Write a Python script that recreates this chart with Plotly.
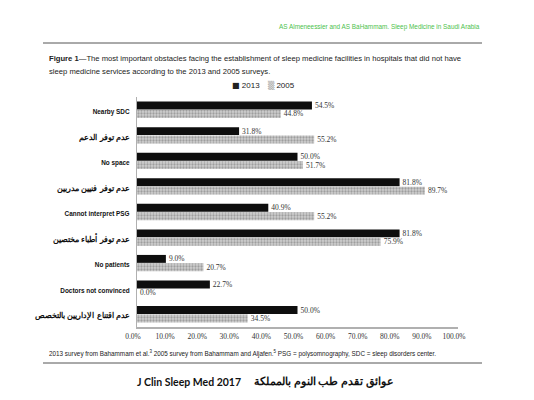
import plotly.graph_objects as go

categories = [
    "Nearby SDC",
    "عدم توفر الدعم",
    "No space",
    "عدم توفر فنيين مدربين",
    "Cannot interpret PSG",
    "عدم توفر أطباء مختصين",
    "No patients",
    "Doctors not convinced",
    "عدم اقتناع الإداريين بالتخصص",
]
is_arabic = [False, True, False, True, False, True, False, False, True]
series_names = ["2013", "2005"]
values_2013 = [54.5, 31.8, 50.0, 81.8, 40.9, 81.8, 9.0, 22.7, 50.0]
values_2005 = [44.8, 55.2, 51.7, 89.7, 55.2, 75.9, 20.7, 0.0, 34.5]
x_ticks = [0, 10, 20, 30, 40, 50, 60, 70, 80, 90, 100]
x_tick_labels = ["0.0%", "10.0%", "20.0%", "30.0%", "40.0%", "50.0%",
                 "60.0%", "70.0%", "80.0%", "90.0%", "100.0%"]

W, H = 534, 400
L, R, T, B = 137, 458, 97, 327


def px(x):
    return (x - L) / (R - L)


def py(y):
    return (B - y) / (B - T)


tick_text = []
for c, ar in zip(categories, is_arabic):
    if ar:
        tick_text.append('<span style="font-size:8px;font-family:Noto Sans"><b>' + c + '</b></span>')
    else:
        tick_text.append('<span style="font-size:6.4px"><b>' + c + '</b></span>')

sans = "Liberation Sans, Arial, sans-serif"
serif = "Liberation Serif, Times New Roman, serif"

fig = go.Figure()
fig.add_trace(go.Bar(
    y=categories, x=values_2013, orientation="h", name=series_names[0],
    marker=dict(color="#0e0e0e", line=dict(width=0)),
    texttemplate="%{x:.1f}%", textposition="outside", constraintext="none",
    cliponaxis=False,
    textfont=dict(size=7.5, color="#333333", family=serif),
))
fig.add_trace(go.Bar(
    y=categories, x=values_2005, orientation="h", name=series_names[1],
    marker=dict(color="#b4b4b4", line=dict(width=0),
                pattern=dict(shape=".", fgcolor="#6e6e6e", bgcolor="#cfcfcf",
                             size=3, solidity=0.45)),
    texttemplate="%{x:.1f}%", textposition="outside", constraintext="none",
    cliponaxis=False,
    textfont=dict(size=7.5, color="#333333", family=serif),
))

fig.update_layout(
    width=W, height=H,
    margin=dict(l=L, r=W - R, t=T, b=H - B, pad=0, autoexpand=False),
    paper_bgcolor="white", plot_bgcolor="white",
    barmode="group", bargap=0.34, bargroupgap=0.06,
    showlegend=False,
    font=dict(family=sans, color="#222"),
)
fig.update_yaxes(
    autorange="reversed", tickmode="array", tickvals=categories, ticktext=tick_text,
    tickfont=dict(family=sans, color="#111"), automargin=False,
    showline=True, linecolor="#b0b0b0", linewidth=1, ticks="", showgrid=False,
    ticklabelstandoff=4,
)
fig.update_xaxes(
    range=[0, 100], tickmode="array", tickvals=x_ticks, ticktext=x_tick_labels,
    tickfont=dict(size=7.5, color="#333", family=serif), automargin=False,
    tickangle=0, ticklabelshift=-4, ticklabelstandoff=1,
    showline=True, linecolor="#b0b0b0", linewidth=1.5, ticks="", showgrid=False,
    zeroline=False,
)

ann = []
# legend
ann.append(dict(text='<span style="font-family:DejaVu Sans;font-size:8px">■</span> ' + series_names[0],
                x=px(230), y=py(85), xanchor="left", yanchor="middle",
                font=dict(size=8, color="#222", family=sans)))
ann.append(dict(text='<span style="font-family:DejaVu Sans;font-size:8px;color:#9a9a9a">▒</span> ' + series_names[1],
                x=px(266), y=py(85), xanchor="left", yanchor="middle",
                font=dict(size=8, color="#222", family=sans)))
ann.append(dict(text="AS Almeneessier and AS BaHammam. Sleep Medicine in Saudi Arabia",
                x=px(482), y=py(27), xanchor="right", yanchor="middle",
                font=dict(size=6.4, color="#4cc24c", family=sans)))
ann.append(dict(text="<b>Figure 1</b>—The most important obstacles facing the establishment of sleep medicine facilities in hospitals that did not have",
                x=px(47), y=py(58), xanchor="left", yanchor="middle", align="left",
                font=dict(size=7.65, color="#222", family=sans)))
ann.append(dict(text="sleep medicine services according to the 2013 and 2005 surveys.",
                x=px(47), y=py(71), xanchor="left", yanchor="middle", align="left",
                font=dict(size=7.65, color="#222", family=sans)))
ann.append(dict(text="2013 survey from Bahammam et al.<sup>3</sup> 2005 survey from Bahammam and Aljafen.<sup>5</sup> PSG = polysomnography, SDC = sleep disorders center.",
                x=px(47), y=py(353), xanchor="left", yanchor="middle", align="left",
                font=dict(size=6.35, color="#222", family=sans)))
ann.append(dict(text="<b>J Clin Sleep Med 2017</b>",
                x=px(135), y=py(382), xanchor="left", yanchor="middle",
                font=dict(size=10.5, color="#111", family="Lato, Noto Sans, sans-serif")))
ann.append(dict(text="<b>عوائق تقدم طب النوم بالمملكة</b>",
                x=px(396), y=py(381), xanchor="right", yanchor="middle",
                font=dict(size=10.5, color="#111", family="Noto Sans, sans-serif")))
for a in ann:
    a.update(xref="paper", yref="paper", showarrow=False)
fig.update_layout(annotations=ann)

fig.update_layout(shapes=[
    dict(type="line", xref="paper", yref="paper", x0=px(43), x1=px(482), y0=py(43), y1=py(43),
         line=dict(color="#555", width=1)),
    dict(type="line", xref="paper", yref="paper", x0=px(43), x1=px(482), y0=py(363), y1=py(363),
         line=dict(color="#555", width=1)),
])

fig.write_html("out.html", config={"displayModeBar": False},
               post_script="document.body.style.margin='0';document.body.style.padding='0';")
